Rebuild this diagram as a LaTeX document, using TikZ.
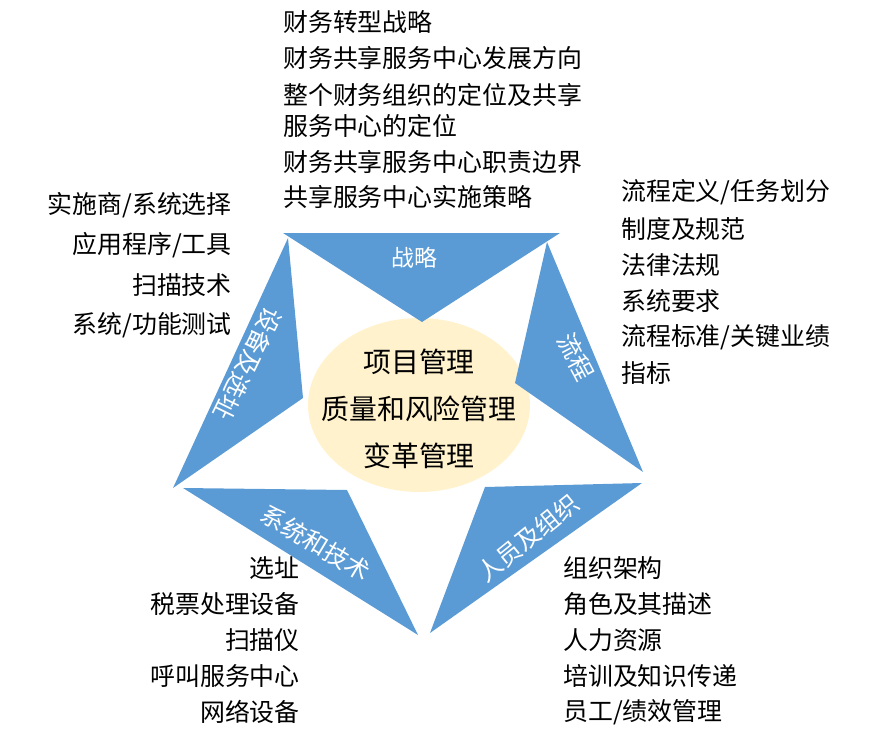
\documentclass[tikz,border=0pt]{standalone}
\usepackage{fontspec}
\setmainfont{Noto Sans CJK SC}
\usepackage{tikz}

\definecolor{wedgeblue}{HTML}{5B9BD5}
\definecolor{coreyellow}{HTML}{FFF2CC}

\begin{document}
\begin{tikzpicture}
		[x=1bp,y=-1bp,
		wedge/.style={fill=wedgeblue},
		core/.style={inner sep=0pt,align=center,font=\fontsize{28}{47}\selectfont},
		tag/.style={text=white,inner sep=0pt,font=\fontsize{24.5}{28}\selectfont},
		item/.style={inner sep=0pt,font=\fontsize{25}{29}\selectfont}]
		\useasboundingbox (0,0) rectangle (870,744);
		\fill [coreyellow] (419,405) ellipse [x radius=111,y radius=87];
		\node at (419,409) (core) [core] {项目管理\\质量和风险管理\\变革管理};
		% the five wedges round the core
		\fill [wedge] (283,233) -- (560,233) -- (422,322) -- cycle;
		\fill [wedge] (547,242) -- (643,472) -- (515,383) -- cycle;
		\fill [wedge] (642,483) -- (430,633) -- (485,487) -- cycle;
		\fill [wedge] (183,488) -- (347,490) -- (418,635) -- cycle;
		\fill [wedge] (288,238) -- (303,398) -- (173,488) -- cycle;
		\node at (414,258) (strategy) [tag,font=\fontsize{23}{26}\selectfont] {战略};
		\node at (576,357) (process) [tag,rotate=-62] {流程};
		\node at (528,538) (people) [tag,rotate=39] {人员及组织};
		\node at (316,543) (systems) [tag,rotate=-31] {系统和技术};
		\node at (248,364) (sites) [tag,rotate=-116] {设备及选址};
		% the lists
		\foreach \y/\t [count=\i] in {22/财务转型战略,58/财务共享服务中心发展方向,
95/整个财务组织的定位及共享,126/服务中心的定位,162/财务共享服务中心职责边界,
197/共享服务中心实施策略}
			\node at (283,\y) (aim\i) [item,anchor=west] {\t};
		\foreach \y/\t [count=\i] in {192/{流程定义/任务划分},229/制度及规范,265/法律法规,
301/系统要求,337/{流程标准/关键业绩},373/指标}
			\node at (621,\y) (flow\i) [item,anchor=west] {\t};
		\foreach \y/\t [count=\i] in {568/组织架构,604/角色及其描述,640/人力资源,
676/培训及知识传递,712/{员工/绩效管理}}
			\node at (563,\y) (staff\i) [item,anchor=west] {\t};
		\foreach \y/\t [count=\i] in {568/选址,604/税票处理设备,640/扫描仪,
676/呼叫服务中心,712/网络设备}
			\node at (300,\y) (tech\i) [item,anchor=east] {\t};
		\foreach \y/\t [count=\i] in {205/{实施商/系统选择},245/{应用程序/工具},285/扫描技术,
325/{系统/功能测试}}
			\node at (232,\y) (site\i) [item,anchor=east] {\t};
	\end{tikzpicture}
\end{document}
